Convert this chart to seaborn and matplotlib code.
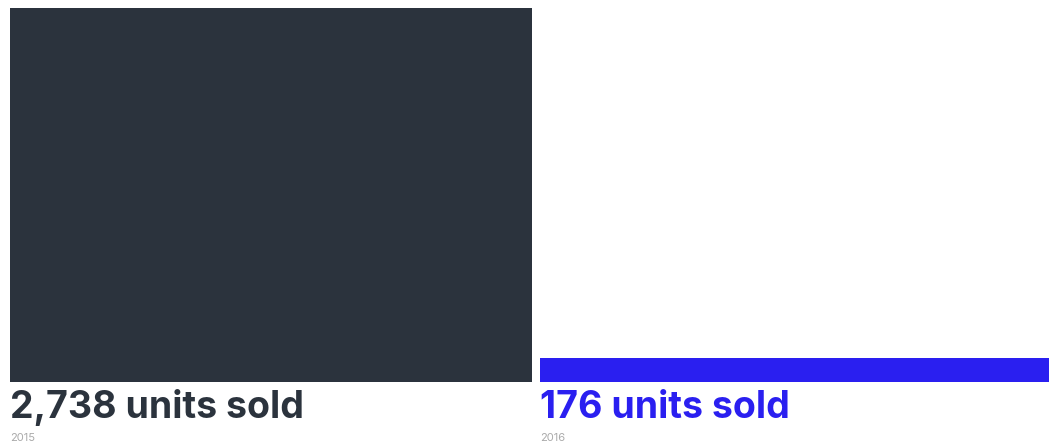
import matplotlib
matplotlib.use("Agg")
import matplotlib.pyplot as plt
import matplotlib.transforms as mtransforms
import seaborn as sns
import pandas as pd

years = ["2015", "2016"]
units = [2738, 176]
labels = ["2,738 units sold", "176 units sold"]
colors = ["#2b333d", "#2a1ff0"]

sns.set_style("white")
plt.rcParams['font.family'] = ['Inter', 'DejaVu Sans']

fig = plt.figure(figsize=(10.49, 4.45), dpi=100)
ax = fig.add_axes([0, 63 / 445, 1, 382 / 445])

df = pd.DataFrame({"year": years, "units": units})
sns.barplot(data=df, x="year", y="units", hue="year", palette=colors,
            width=522 / 530, legend=False, ax=ax, saturation=1, linewidth=0)

ax.set_xlim(-271 / 530, (1049 - 271) / 530)
ax.set_ylim(0, units[0] * 382 / 374)
ax.axis("off")

trans = mtransforms.blended_transform_factory(ax.transData, fig.transFigure)
for patch, lab, yr, c in zip(ax.patches, labels, years, colors):
    x0 = patch.get_x()
    ax.text(x0, 1 - 418 / 445, lab, transform=trans, ha="left", va="baseline",
            fontsize=27, fontweight="bold", color=c)
    ax.text(x0, 1 - 441 / 445, yr, transform=trans, ha="left", va="baseline",
            fontsize=8, color="#aaaaaa")

fig.savefig("out.png", dpi=100)
